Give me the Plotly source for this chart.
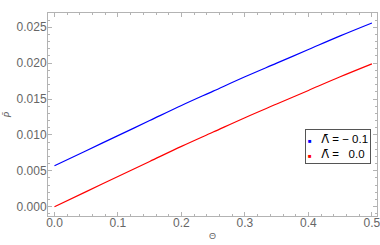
import plotly.graph_objects as go

theta = [0.0, 0.05, 0.10, 0.15, 0.20, 0.25, 0.30, 0.35, 0.40, 0.45, 0.50]
p_lambda_m01 = [0.0057, 0.0078, 0.0099, 0.0120, 0.0141, 0.0161, 0.0181, 0.0200, 0.0219, 0.0238, 0.0256]
p_lambda_00 = [0.0000, 0.0021, 0.0042, 0.0063, 0.0084, 0.0104, 0.0124, 0.0143, 0.0162, 0.0181, 0.0199]
series_names = ["Λ̄ = − 0.1", "Λ̄ = \u00a0\u00a00.0"]
series_colors = ["#0000ff", "#ff0000"]
x_ticks = [0.0, 0.1, 0.2, 0.3, 0.4, 0.5]
y_ticks = [0.000, 0.005, 0.010, 0.015, 0.020, 0.025]

FONT = "Liberation Sans, Arial"
fig = go.Figure()
for ys, name, col in zip([p_lambda_m01, p_lambda_00], series_names, series_colors):
    fig.add_trace(go.Scatter(x=theta, y=ys, mode="lines", name=name, line=dict(color=col, width=1.2),
                             line_shape="spline", showlegend=False, hoverinfo="skip"))

frame = "#b3b3b3"
tickfont = dict(family=FONT, size=12, color="#666666")
common = dict(showline=True, linecolor=frame, linewidth=1, mirror="ticks", ticks="inside",
              ticklen=4, tickcolor=frame, showgrid=False, zeroline=False, tickfont=tickfont,
              automargin=False, ticklabeloverflow="allow")
fig.update_xaxes(range=[-0.0102, 0.508], tickvals=x_ticks, ticktext=[f"{v:.1f}" for v in x_ticks],
                 minor=dict(ticks="inside", ticklen=2, tickcolor=frame, dtick=0.02, tick0=0),
                 ticklabelstandoff=-4, **common)
fig.update_yaxes(range=[-0.0013, 0.02699], tickvals=y_ticks, ticktext=[f"{v:.3f}" for v in y_ticks],
                 minor=dict(ticks="inside", ticklen=2, tickcolor=frame, dtick=0.001, tick0=0),
                 ticklabelstandoff=-2, **common)

def styled(name):
    return name.replace("Λ̄", "<span style='font-family:DejaVu Sans'>Λ̄</span>")

legend_text = "<br>".join(
    f"<span style='color:{c};font-size:6px'>■</span>\u00a0\u00a0 {styled(n)}"
    for n, c in zip(series_names, series_colors))
annotations = [
    dict(text="Θ", xref="paper", yref="paper", x=0.5, y=-0.0985, xanchor="center", yanchor="middle",
         showarrow=False, font=dict(family=FONT, size=9, color="#666666")),
    dict(text="<i>P̄</i>", xref="paper", yref="paper", x=-0.1216, y=0.5, xanchor="center", yanchor="middle",
         textangle=-90, showarrow=False, font=dict(family="DejaVu Sans", size=9, color="#666666")),
    dict(text=legend_text, xref="paper", yref="paper", x=0.982, y=0.258, xanchor="right", yanchor="bottom",
         align="left", showarrow=False, bordercolor="#555555", borderwidth=1, borderpad=2, bgcolor="white",
         font=dict(family=FONT, size=11.5, color="#000000")),
]
fig.update_layout(
    width=380, height=245, margin=dict(l=48, r=3, t=13, b=29),
    paper_bgcolor="white", plot_bgcolor="white", showlegend=False,
    annotations=annotations,
)
fig.write_html("out.html", config={"displayModeBar": False},
               post_script="document.body.style.margin='0';")
